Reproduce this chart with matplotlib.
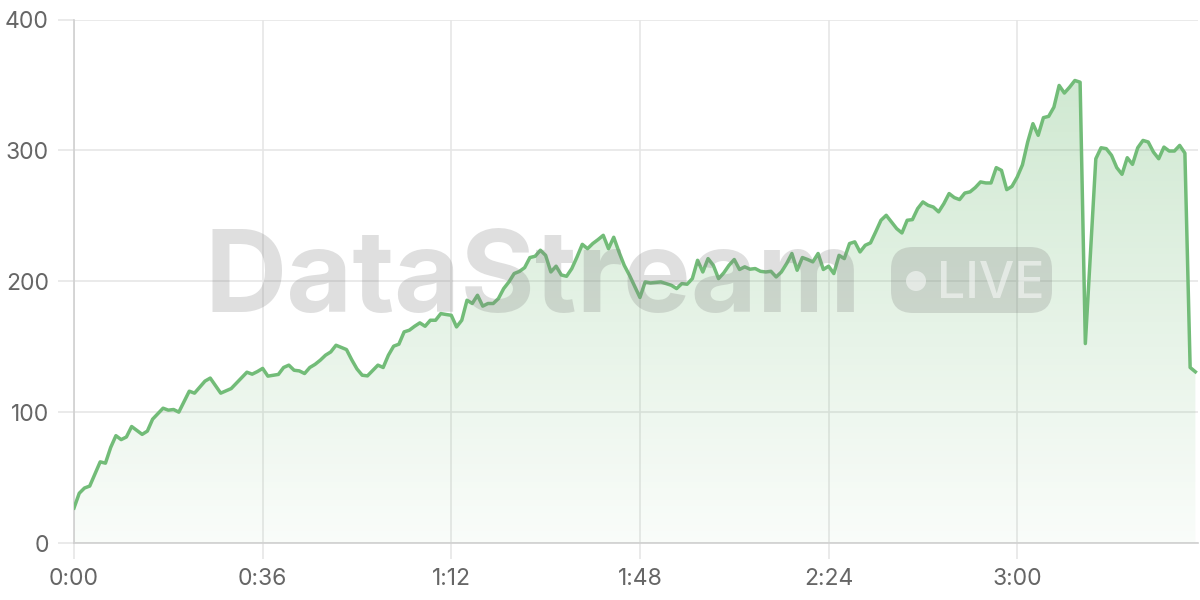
import numpy as np
import matplotlib
matplotlib.use("Agg")
import matplotlib.pyplot as plt
from matplotlib.patches import FancyBboxPatch, Circle, Polygon
from matplotlib.transforms import IdentityTransform
from matplotlib.colors import LinearSegmentedColormap

# ---- data (seconds, value) ----
seconds = [0, 1, 2, 3, 5, 6, 7, 8, 9, 10, 11, 13, 14, 15, 17, 18, 19, 20, 22, 23,
           25, 26, 28, 30, 33, 34, 35, 36, 37, 39, 40, 41, 42, 43, 44, 45, 46, 47, 48, 49,
           50, 52, 53, 54, 55, 56, 58, 59, 60, 61, 62, 63, 64, 65, 66, 67, 68, 69, 70, 71,
           72, 73, 74, 75, 76, 77, 78, 79, 80, 81, 82, 83, 84, 85, 86, 87, 88, 89, 90, 91,
           92, 93, 94, 95, 96, 97, 98, 99, 100, 101, 102, 103, 104, 105, 106, 107, 108, 109, 110, 112,
           113, 114, 115, 116, 117, 118, 119, 120, 121, 122, 123, 124, 125, 126, 127, 128, 129, 130, 131, 132,
           133, 134, 135, 136, 137, 138, 139, 140, 141, 142, 143, 144, 145, 146, 147, 148, 149, 150, 151, 152,
           153, 154, 155, 156, 157, 158, 159, 160, 161, 162, 163, 164, 165, 166, 167, 168, 169, 170, 171, 172,
           173, 174, 175, 176, 177, 178, 179, 180, 181, 182, 183, 184, 185, 186, 187, 188, 189, 190, 191, 192,
           193, 195, 196, 197, 198, 199, 200, 201, 202, 203, 204, 205, 206, 207, 208, 209, 210, 211, 212, 213,
           214]
values = [26.7, 38, 42, 43.5, 62, 61, 73, 82, 79, 81, 89, 83, 85.5, 94.6, 103, 101.5, 102, 100, 116, 114.5,
          123.7, 126, 114.5, 118, 130.5, 129, 131, 133.4, 127.5, 128.8, 134.1, 135.9, 132, 131.5, 129.5, 134.1, 136.5, 139.7, 143.5, 146,
          151.1, 147.8, 140, 133, 128.2, 127.7, 135.9, 134.1, 143.5, 150.4, 151.9, 161.3, 162.6, 165.6, 168.2, 165.6, 170.2, 170.2, 175.3, 174.6,
          174, 165.1, 170.2, 185.5, 183, 189.3, 181, 183, 183, 186.8, 194.4, 199.5, 205.9, 207.5, 210.4, 218.1, 219.1, 223.7, 219.8, 207.1,
          211.5, 204.8, 203.8, 209.7, 218.6, 228.2, 224.9, 228.8, 231.8, 235.1, 224.9, 233.6, 222.4, 212.2, 204.6, 196, 187.6, 199.5, 198.7, 199.5,
          198.2, 196.9, 194.4, 198.2, 197.7, 202, 216, 207.1, 217.3, 212.2, 202, 206.4, 212.2, 216.6, 209, 211, 209.2, 209.7, 207.6, 207.1,
          207.6, 203.3, 207.1, 213.5, 221.2, 208.4, 218.1, 216.6, 214.8, 221.2, 209, 211.5, 205.9, 219.8, 217.3, 228.8, 230.1, 222.4, 227.5, 229.3,
          237.8, 246.6, 250.4, 245.3, 240.2, 236.9, 246.6, 247.1, 255.5, 260.6, 258, 256.7, 253, 259.3, 267, 263.9, 262.4, 267.4, 268.3, 271.6,
          275.9, 275.1, 275.1, 286.8, 284.7, 270, 272.5, 279.6, 289, 306.4, 320.4, 311.5, 325, 326, 333, 349.6, 343.8, 348.3, 353.4, 352.1,
          152.4, 293.6, 302, 301.3, 296.2, 286.8, 281.7, 294.4, 289.3, 302, 307.6, 306.4, 298.7, 293.6, 302.5, 299.5, 299.5, 303.8, 297.9, 134.1,
          130.8]

x_ticks = [0, 36, 72, 108, 144, 180]
x_tick_labels = ["0:00", "0:36", "1:12", "1:48", "2:24", "3:00"]
y_ticks = [0, 100, 200, 300, 400]

LINE = "#72bc78"
GRID = "#e6e6e6"
TXT = "#666666"

plt.rcParams['font.family'] = ['Inter', 'DejaVu Sans']

fig = plt.figure(figsize=(12, 6), dpi=100)
ax = fig.add_axes([74 / 1200, 1 - 543 / 600, (1198 - 74) / 1200, (543 - 19.5) / 600])

xs = np.array(seconds, dtype=float)
ys = np.array(values, dtype=float)

ax.set_xlim(0, 214.5)
ax.set_ylim(0, 400)

# gradient fill under the line
cmap = LinearSegmentedColormap.from_list(
    "g", [(0.45, 0.74, 0.47, 0.04), (0.45, 0.74, 0.47, 0.34)])
grad = np.linspace(0, 1, 256).reshape(-1, 1)
im = ax.imshow(grad, aspect="auto", cmap=cmap, origin="lower",
               extent=[0, 214.5, 0, 360], zorder=1)
poly = Polygon(np.column_stack([np.r_[xs[0], xs, xs[-1]], np.r_[0, ys, 0]]),
               closed=True, facecolor="none", edgecolor="none")
ax.add_patch(poly)
im.set_clip_path(poly)

ax.plot(xs, ys, color=LINE, lw=2.5, zorder=3, solid_joinstyle="round")

ax.set_xticks(x_ticks)
ax.set_xticklabels(x_tick_labels)
ax.set_yticks(y_ticks)
ax.grid(True, color=GRID, lw=1.2, zorder=0)
ax.set_axisbelow(True)
ax.tick_params(axis="both", length=11.5, width=1.2, color=GRID, labelcolor=TXT,
               labelsize=16.5, pad=6.5)
for s in ["top", "right"]:
    ax.spines[s].set_visible(False)
ax.spines["left"].set_color("#d0d0d0")
ax.spines["bottom"].set_color("#d0d0d0")
ax.spines["left"].set_linewidth(1.2)
ax.spines["bottom"].set_linewidth(1.2)

# watermark
fig.text(205 / 1200, 1 - 312 / 600, "DataStream", fontsize=82, fontweight="bold",
         color="#808080", alpha=0.25, ha="left", va="baseline", zorder=10,
         family=["Inter", "DejaVu Sans"])
box = FancyBboxPatch((891, 600 - 313), 161, 66,
                     boxstyle="round,pad=0,rounding_size=22",
                     transform=IdentityTransform(), facecolor="#808080",
                     edgecolor="none", alpha=0.25, zorder=10)
fig.add_artist(box)
dot = Circle((916, 600 - 281), 10, transform=IdentityTransform(),
             facecolor="white", edgecolor="none", alpha=0.5, zorder=11)
fig.add_artist(dot)
fig.text(937 / 1200, 1 - 298 / 600, "LIVE", fontsize=36, fontweight="medium",
         color="white", alpha=0.5, ha="left", va="baseline", zorder=11)

fig.savefig("out.png", dpi=100)
